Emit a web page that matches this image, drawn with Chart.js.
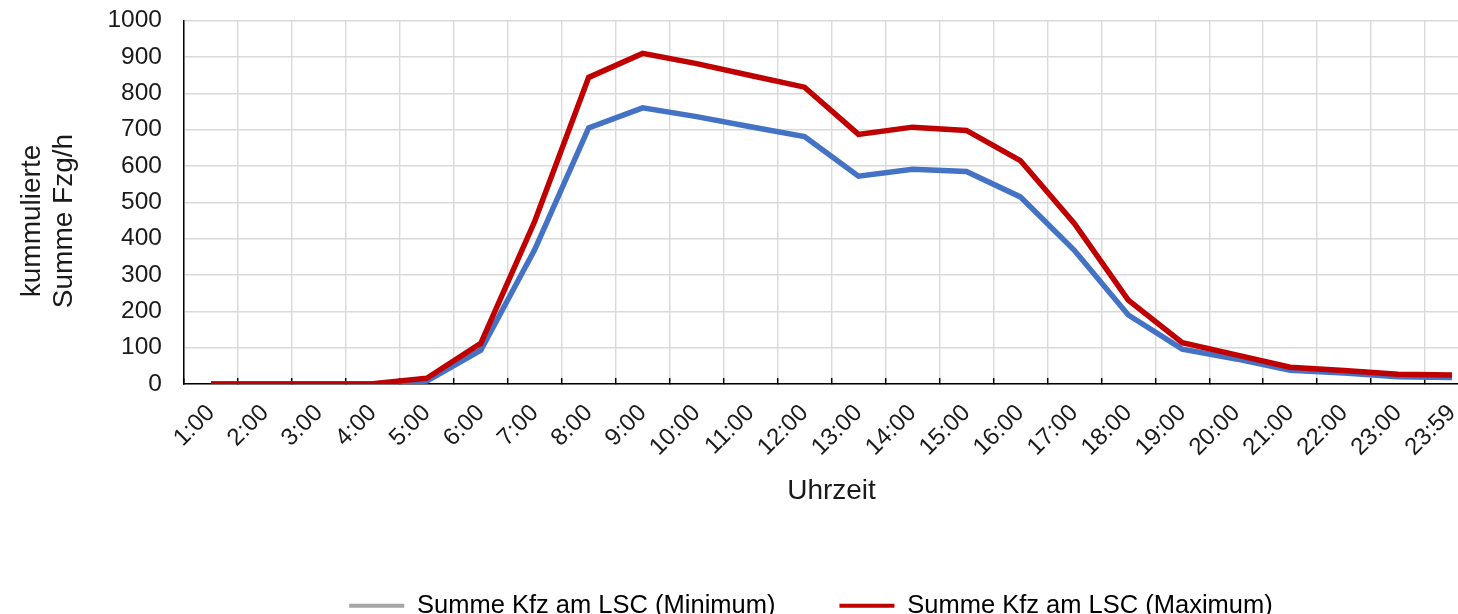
<!DOCTYPE html>
<html>
<head>
<meta charset="utf-8">
<script src="https://cdn.jsdelivr.net/npm/chart.js@4/dist/chart.umd.min.js"></script>
<style>
  html, body { margin: 0; padding: 0; background: #fff; overflow: hidden; }
  #wrap { width: 1458px; height: 614px; overflow: hidden; }
</style>
</head>
<body>
<div id="wrap">
  <canvas id="chart" width="1622" height="628"></canvas>
</div>
<script>
// Verkehrsmengen am LSC, Tagesganglinie
const hours = ['1:00', '2:00', '3:00', '4:00', '5:00', '6:00', '7:00', '8:00', '9:00', '10:00', '11:00', '12:00',
  '13:00', '14:00', '15:00', '16:00', '17:00', '18:00', '19:00', '20:00', '21:00', '22:00', '23:00', '23:59'];

const minValues = [0, 0, 0, 0, 8, 93, 370, 705, 760, 736, 708, 681,
  572, 591, 585, 515, 368, 190, 96, 69, 38, 30, 20, 18];

const maxValues = [0, 0, 0, 1, 16, 112, 448, 844, 910, 882, 849, 817,
  687, 707, 698, 615, 442, 231, 114, 80, 46, 37, 27, 25];

const yTicks = { min: 0, max: 1000, step: 100 };

const FONT = 'Liberation Sans, Arial, sans-serif';
const TEXT = '#1a1a1a';

// y axis title, drawn by hand so it sits where the original has it
const yTitlePlugin = {
  id: 'yTitle',
  afterDraw(chart) {
    const ctx = chart.ctx;
    ctx.save();
    ctx.translate(48, 221);
    ctx.rotate(-Math.PI / 2);
    ctx.font = '28px ' + FONT;
    ctx.fillStyle = TEXT;
    ctx.textAlign = 'center';
    ctx.textBaseline = 'middle';
    ctx.fillText('kummulierte', 0, -16);
    ctx.fillText('Summe Fzg/h', 0, 16);
    ctx.restore();
  }
};

const chart = new Chart(document.getElementById('chart'), {
  type: 'line',
  data: {
    labels: hours,
    datasets: [
      {
        label: 'Summe Kfz am LSC (Minimum)',
        data: minValues,
        borderColor: '#4472C4',
        legendColor: '#A5A5A5',
        borderWidth: 5.5,
        pointRadius: 0,
        tension: 0,
        order: 1
      },
      {
        label: 'Summe Kfz am LSC (Maximum)',
        data: maxValues,
        borderColor: '#C00000',
        legendColor: '#C00000',
        borderWidth: 5.5,
        pointRadius: 0,
        tension: 0,
        order: 0
      }
    ]
  },
  options: {
    responsive: false,
    animation: false,
    layout: { padding: 0 },
    plugins: {
      tooltip: { enabled: false },
      legend: {
        position: 'bottom',
        maxHeight: 99,
        labels: {
          font: { family: FONT, size: 25.5 },
          color: TEXT,
          boxWidth: 55,
          boxHeight: 4,
          padding: 64,
          generateLabels(chart) {
            return chart.data.datasets.map((ds, i) => ({
              text: ds.label,
              fillStyle: ds.legendColor,
              strokeStyle: ds.legendColor,
              lineWidth: 0,
              hidden: false,
              datasetIndex: i
            }));
          }
        }
      }
    },
    scales: {
      x: {
        offset: true,
        grid: {
          offset: true,
          color: '#d9d9d9',
          lineWidth: 1.4,
          drawTicks: true,
          tickLength: -6,
          tickColor: '#000',
          tickWidth: 1.5
        },
        border: { color: '#000', width: 1.5 },
        ticks: {
          autoSkip: false,
          minRotation: 45,
          maxRotation: 45,
          padding: 21,
          color: TEXT,
          font: { family: FONT, size: 24 }
        },
        title: {
          display: true,
          text: 'Uhrzeit',
          color: TEXT,
          font: { family: FONT, size: 28 },
          padding: { top: 0, bottom: 21 }
        },
        afterFit(scale) { scale.height = 145; }
      },
      y: {
        min: yTicks.min,
        max: yTicks.max,
        grid: {
          color: '#d9d9d9',
          lineWidth: 1.4,
          drawTicks: true,
          tickLength: 16,
          tickColor: 'rgba(0,0,0,0)'
        },
        border: { color: '#000', width: 1.5 },
        ticks: {
          stepSize: yTicks.step,
          padding: 6,
          color: TEXT,
          font: { family: FONT, size: 24.5 },
          callback: v => String(v)
        },
        afterFit(scale) { scale.width = 184; }
      },
      // empty axis on the right, only there to push the plot past the visible edge
      yRight: {
        position: 'right',
        min: yTicks.min,
        max: yTicks.max,
        grid: { display: false },
        border: { display: false },
        ticks: { display: false },
        afterFit(scale) { scale.width = 143; }
      }
    }
  },
  plugins: [yTitlePlugin]
});
</script>
</body>
</html>
